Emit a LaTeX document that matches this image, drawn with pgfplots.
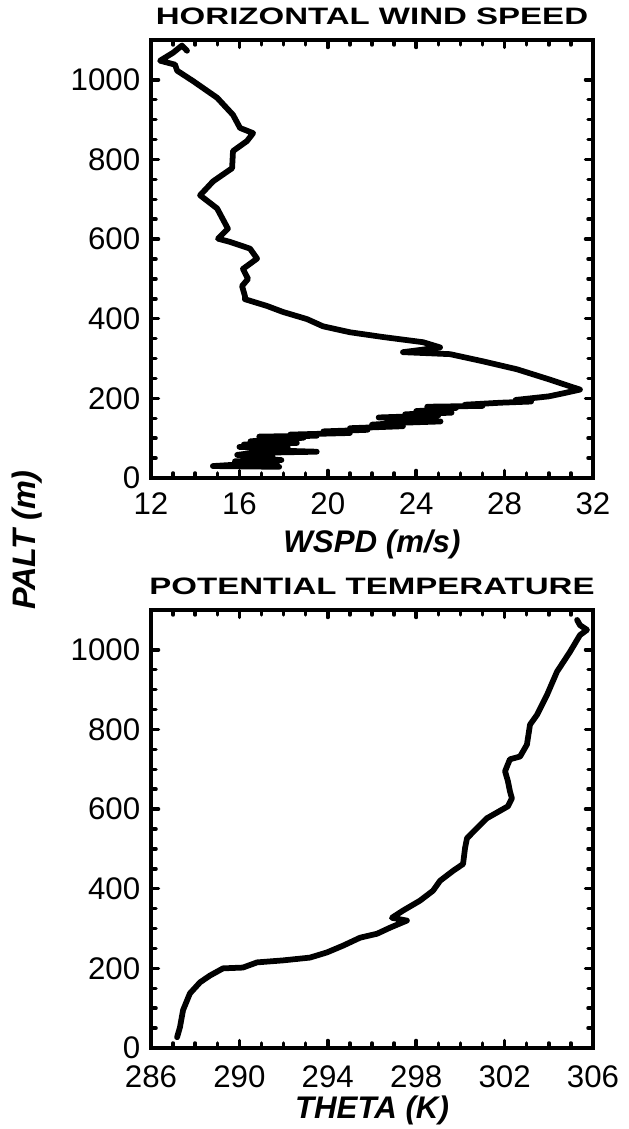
\documentclass[border=0pt]{standalone}
\usepackage{graphicx}
\usepackage{pgfplots}
\pgfplotsset{compat=1.18}
\usepackage{fontspec}
\setmainfont{Liberation Sans}

\begin{document}
\begin{tikzpicture}
\useasboundingbox (0,0) rectangle (251.2pt,451.6pt);
\pgfplotsset{
  profile/.style={
    scale only axis,
    width=176.8pt, height=175.2pt,
    axis line style={line width=1.6pt},
    ymin=0, ymax=1100,
    ytick={0,200,...,1000}, minor y tick num=3,
    minor x tick num=3,
    tick align=inside,
    major tick length=3pt, minor tick length=2pt,
    tick style={line width=1.4pt, black, line cap=round},
    ticklabel style={font=\fontsize{12.5}{14}\selectfont},
    xticklabel style={yshift=-2.4pt},
    yticklabel style={xshift=-0.8pt},
    /pgf/number format/assume math mode=true,
    /pgf/number format/1000 sep={},
    every axis title shift=0pt,
    title style={font=\bfseries\fontsize{9.5}{11}\selectfont,
      at={(axis description cs:0.5,1)}, anchor=base, yshift=6pt},
    xlabel style={font=\bfseries\itshape\fontsize{12.5}{14}\selectfont,
      at={(axis description cs:0.5,0)}, anchor=center},
  },
  curve/.style={black, no marks, line width=2.3pt, line join=round, line cap=round},
}

% top: horizontal wind speed
\begin{axis}[profile,
  at={(60.4pt,260.4pt)}, anchor=south west,
  xmin=12, xmax=32, xtick={12,16,...,32},
  title={\scalebox{1.39}[1]{HORIZONTAL WIND SPEED}},
  xlabel={WSPD (m/s)},
  xlabel style={yshift=-26.5pt},
]
\addplot[curve] coordinates {
(13.63,1073) (13.40,1086) (13.00,1068) (12.41,1048) (13.09,1038) (13.18,1023)
(13.90,997) (14.99,955) (15.71,912) (16.03,879) (16.62,866) (16.34,846)
(15.71,821) (15.67,778) (14.81,745) (14.22,710) (14.99,677) (15.48,626)
(15.03,601) (15.57,593) (16.48,576) (16.80,551) (16.16,525) (16.39,500)
(16.12,482) (16.25,457) (16.25,449) (17.25,432) (17.97,417) (19.06,399)
(19.78,381) (21.00,366) (22.50,354) (24.31,341) (25.08,328) (23.40,316)
(25.53,311) (27.02,293) (28.56,273) (30.05,247) (31.41,222)
(30.60,212) (30.00,205) (28.50,196) (29.20,192) (27.80,189) (26.20,184)
(27.00,181) (24.50,179) (25.80,176) (25.20,172) (24.00,168) (25.60,164)
(23.50,160) (25.00,157) (22.30,152) (24.00,149) (23.00,146) (25.10,142)
(23.50,139) (22.00,134) (23.40,130) (21.00,125) (21.80,121) (19.80,117)
(21.00,113) (18.30,109) (19.50,106) (16.90,104) (18.90,101) (17.50,97)
(16.50,92) (18.60,88) (16.20,84) (17.60,80) (16.00,78) (18.20,74)
(17.00,70) (19.50,66) (16.60,63) (15.90,58) (17.50,54) (16.30,50)
(17.90,45) (15.80,42) (17.70,38) (16.00,34) (14.80,30) (17.80,28)
};
\end{axis}

% bottom: potential temperature
\begin{axis}[profile,
  at={(60.4pt,32.4pt)}, anchor=south west,
  xmin=286, xmax=306, xtick={286,290,...,306},
  xticklabel style={yshift=-1.2pt},
  title={\scalebox{1.39}[1]{POTENTIAL TEMPERATURE}},
  xlabel={THETA (K)},
  xlabel style={yshift=-25pt},
]
\addplot[curve] coordinates {
(305.28,1075) (305.41,1062) (305.73,1050) (305.41,1037) (304.96,995)
(304.37,945) (303.92,887) (303.47,837) (303.15,812) (303.01,762)
(302.70,732) (302.24,725) (302.02,695) (302.15,670) (302.24,645)
(302.33,627) (302.15,607) (301.20,577) (300.75,552) (300.30,527)
(300.21,502) (300.12,462) (299.67,445) (299.08,420) (298.76,395)
(298.17,370) (297.40,345) (296.90,327) (297.58,320) (296.81,302)
(296.23,287) (295.46,277) (294.69,257) (293.96,240) (293.19,227)
(291.97,220) (290.80,215) (290.16,202) (289.26,200) (288.67,182)
(288.22,165) (287.76,137) (287.45,95) (287.31,52) (287.18,27)
};
\end{axis}

\node[rotate=90, font=\bfseries\itshape\fontsize{13}{15}\selectfont]
  at (10.8pt,235.6pt) {PALT (m)};
\end{tikzpicture}
\end{document}
